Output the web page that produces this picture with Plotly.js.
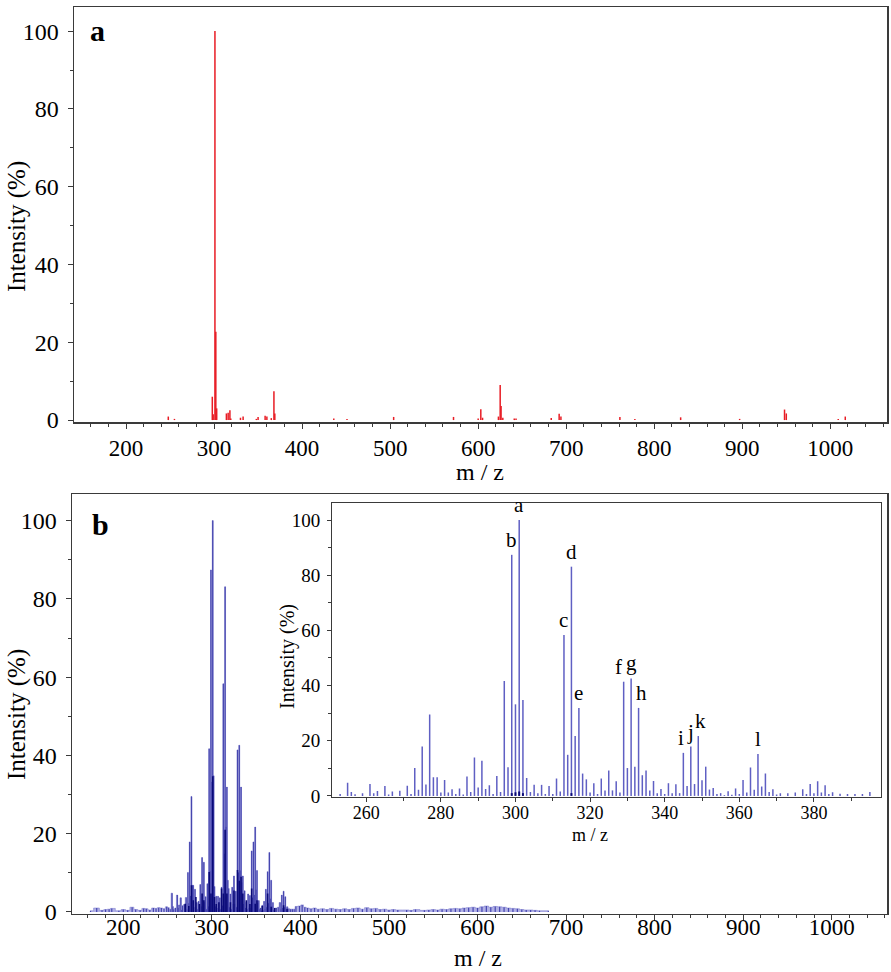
<!DOCTYPE html>
<html>
<head>
<meta charset="utf-8">
<script src="https://cdn.plot.ly/plotly-3.0.1.min.js"></script>
<style>html,body{margin:0;padding:0;background:#fff;}#chart{width:891px;height:972px;}</style>
</head>
<body>
<div id="chart"></div>
<script>
// ---------- Panel a (red spectrum) ----------
const aMz  = [248, 255, 298, 299, 301, 302, 303, 314, 316, 318, 319, 330, 333, 348, 350, 358, 360, 365, 368, 369,
              436, 451, 504, 572, 600, 603, 605, 623, 625, 626, 628, 641, 643, 683, 692, 694, 761, 778, 830, 897,
              948, 950, 1009, 1017];
const aInt = [0.9, 0.3, 6.0, 1.5, 100, 22.7, 3.0, 1.7, 1.9, 2.5, 0.4, 0.6, 0.9, 0.3, 0.8, 1.1, 0.9, 0.5, 7.4, 1.7,
              0.4, 0.3, 0.8, 0.8, 0.4, 2.8, 0.6, 0.9, 9.0, 3.6, 0.6, 0.4, 0.4, 0.5, 1.6, 0.9, 0.8, 0.3, 0.7, 0.3,
              2.7, 1.7, 0.3, 0.9];

// ---------- Panel b inset / main cluster (blue spectrum) ----------
const bMz  = [253, 255, 256, 257, 259, 261, 262, 263, 265, 266, 267, 269, 271, 272, 273, 274, 275, 276, 277, 278,
              279, 280, 281, 282, 283, 284, 285, 286, 287, 288, 289, 290, 291, 292, 293, 294, 295, 296, 297, 298,
              299, 300, 301, 302, 303, 304, 305, 306, 307, 308, 309, 310, 311, 312, 313, 314, 315, 316, 317, 318,
              319, 320, 321, 322, 323, 324, 325, 326, 327, 328, 329, 330, 331, 332, 333, 334, 335, 336, 337, 338,
              339, 340, 341, 342, 343, 344, 345, 346, 347, 348, 349, 350, 351, 352, 353, 354, 355, 356, 357, 358,
              359, 360, 361, 362, 363, 364, 365, 366, 367, 368, 369, 370, 371, 373, 375, 377, 378, 379, 380, 381,
              382, 383, 384, 385, 387, 389, 391, 393, 395];
const bInt = [0.7, 4.8, 1.4, 0.6, 1.0, 4.3, 1.0, 1.8, 3.6, 0.5, 1.6, 1.9, 3.7, 0.7, 10.1, 2.2, 17.9, 4.1, 29.5, 6.8,
              6.8, 1.2, 5.8, 1.2, 2.4, 0.7, 2.7, 0.5, 7.0, 1.4, 13.9, 3.0, 12.7, 2.5, 3.9, 0.7, 7.2, 1.4, 41.7, 10.4,
              87.4, 33.2, 100, 34.8, 6.5, 1.4, 4.0, 1.0, 4.0, 0.7, 3.6, 0.7, 6.3, 1.6, 58.3, 14.9, 83.1, 21.7, 31.9, 8.1,
              6.0, 1.2, 4.6, 0.7, 6.3, 2.0, 9.2, 2.0, 5.3, 1.2, 41.4, 10.1, 42.6, 10.6, 31.9, 7.5, 9.2, 2.0, 5.4, 1.0,
              2.5, 0.7, 4.6, 1.0, 4.2, 1.0, 15.6, 3.6, 17.9, 4.3, 21.7, 5.7, 10.6, 2.3, 2.9, 0.7, 1.0, 0.3, 1.7, 0.4,
              2.7, 0.7, 5.8, 1.2, 10.3, 2.2, 15.2, 3.4, 8.1, 1.4, 2.4, 0.5, 1.0, 1.0, 1.2, 2.4, 0.7, 4.3, 1.0, 5.3,
              1.2, 3.9, 0.7, 1.3, 0.8, 0.7, 0.7, 0.7, 1.4];

// low-level background of the full-range spectrum in panel b
const bgMz  = [163, 170, 176, 180, 184, 187, 195, 200, 205, 210, 214, 219, 223, 226, 230, 234, 237, 240, 243, 246,
               249, 251, 399, 402, 405, 408, 412, 416, 420, 425, 430, 435, 440, 445, 450, 455, 460, 465, 470, 475,
               480, 485, 490, 495, 500, 505, 510, 520, 525, 530, 540, 545, 550, 555, 560, 565, 570, 575, 580, 585,
               590, 595, 600, 605, 610, 615, 620, 625, 630, 635, 640, 645, 650, 655, 660, 665, 670, 680];
const bgInt = [0.3, 1.0, 0.4, 0.6, 0.7, 0.9, 0.3, 0.6, 0.4, 1.2, 0.6, 0.4, 0.9, 0.8, 0.5, 1.0, 0.9, 1.1, 1.0, 0.8,
               1.3, 1.1, 1.5, 1.8, 1.2, 1.0, 0.8, 1.0, 0.7, 0.8, 0.6, 0.9, 0.7, 0.6, 0.8, 0.6, 0.9, 1.0, 0.7, 1.1,
               0.8, 0.9, 0.6, 0.7, 0.5, 0.6, 0.5, 0.5, 0.4, 0.6, 0.4, 0.5, 0.6, 0.5, 0.7, 0.6, 0.8, 0.9, 0.8, 1.0,
               1.1, 1.2, 1.0, 1.3, 1.5, 1.2, 1.4, 1.3, 1.2, 1.0, 0.9, 0.8, 0.6, 0.5, 0.5, 0.4, 0.3, 0.3];

// dark (overlapping) component seen in the full-range panel b
const darkMz  = [270, 274, 277, 279, 282, 286, 289, 291, 297, 299, 301, 303, 305, 308, 311, 313, 315, 317, 321, 325,
                 329, 331, 333, 335, 339, 343, 345, 349, 351, 357, 363, 367, 371, 381, 385];
const darkInt = [2.1, 1.5, 6.8, 3.0, 3.8, 2.0, 4.7, 3.0, 10.2, 4.7, 34.7, 3.8, 2.0, 2.5, 6.0, 4.7, 21.0, 4.7, 2.5, 5.5,
                 10.7, 8.0, 9.0, 4.7, 3.0, 2.0, 6.0, 2.1, 3.0, 1.5, 4.7, 1.3, 1.0, 1.7, 0.8];

// dark marks near the base in the inset
const insetDarkMz  = [299, 300, 301, 302, 315];
const insetDarkInt = [1.0, 1.3, 1.6, 1.0, 1.0];

// peak labels in the inset
const peakLabels = ['a', 'b', 'c', 'd', 'e', 'f', 'g', 'h', 'i', 'j', 'k', 'l'];
const peakMz     = [301, 299, 313, 315, 317, 329, 331, 333, 345, 347, 349, 365];

// ---------- helpers ----------
function spikes(mz, inten) {
  const x = [], y = [];
  for (let i = 0; i < mz.length; i++) { x.push(mz[i], mz[i], null); y.push(0, inten[i], null); }
  return {x, y};
}
function sortedPairs(mzs, ints) {
  const p = mzs.map((m, i) => [m, ints[i]]).sort((u, v) => u[0] - v[0]);
  return {x: p.map(q => q[0]), y: p.map(q => q[1])};
}

const W = 891, H = 972;
const px = v => v / W, py = v => 1 - v / H;

const aS = spikes(aMz, aInt);
const allB = sortedPairs(bgMz.concat(bMz), bgInt.concat(bInt));
const bS = spikes(allB.x, allB.y);
const dS = spikes(darkMz, darkInt);
const iS = spikes(bMz, bInt);
const idS = spikes(insetDarkMz, insetDarkInt);

const traces = [
  {x: aS.x, y: aS.y, xaxis: 'x', yaxis: 'y', mode: 'lines', line: {color: 'rgb(232,28,36)', width: 1.5}, hoverinfo: 'skip'},
  {x: allB.x, y: allB.y, xaxis: 'x2', yaxis: 'y2', mode: 'lines', line: {color: 'rgba(120,120,205,0.9)', width: 0.6, shape: 'hvh'},
   fill: 'tozeroy', fillcolor: 'rgba(150,150,220,0.75)', hoverinfo: 'skip'},
  {x: bS.x, y: bS.y, xaxis: 'x2', yaxis: 'y2', mode: 'lines', line: {color: 'rgb(70,70,175)', width: 1.2}, hoverinfo: 'skip'},
  {x: dS.x, y: dS.y, xaxis: 'x2', yaxis: 'y2', mode: 'lines', line: {color: 'rgb(10,10,120)', width: 1.6}, hoverinfo: 'skip'},
  {x: iS.x, y: iS.y, xaxis: 'x3', yaxis: 'y3', mode: 'lines', line: {color: 'rgb(95,95,195)', width: 1.5}, hoverinfo: 'skip'},
  {x: idS.x, y: idS.y, xaxis: 'x3', yaxis: 'y3', mode: 'lines', line: {color: 'rgb(10,10,120)', width: 2}, hoverinfo: 'skip'}
];

const serif = 'Liberation Serif, Times New Roman, serif';
const frame = '#3a3a3a';
function xAx(domain, range, anchor, fs, dtick, minor, opts) {
  return Object.assign({
    domain, range, anchor, showgrid: false, zeroline: false, showline: true, linecolor: frame, linewidth: 1.5, mirror: true,
    ticks: 'outside', ticklen: 5, tickwidth: 1, tickcolor: frame, tick0: 0, dtick,
    minor: {dtick: minor, ticks: 'outside', ticklen: 3, tickcolor: frame, showgrid: false},
    tickfont: {family: serif, size: fs, color: '#000'}, fixedrange: true
  }, opts || {});
}

const layout = {
  width: W, height: H, margin: {l: 0, r: 0, t: 0, b: 0}, paper_bgcolor: '#fff', plot_bgcolor: '#fff', showlegend: false,
  xaxis:  xAx([px(74), px(887)], [140.9, 1064.4], 'y', 23, 100, 20, {ticklabelstandoff: 0}),
  yaxis:  xAx([py(422), py(7)], [-0.5, 106.2], 'x', 24, 20, 10, {ticklabelstandoff: 4}),
  xaxis2: xAx([px(72), px(887)], [142.1, 1062.4], 'y2', 23, 100, 20, {ticklabelstandoff: -13}),
  yaxis2: xAx([py(913.5), py(494)], [-0.4, 106.8], 'x2', 24, 20, 10, {ticklabelstandoff: 4}),
  xaxis3: xAx([px(332.3), px(880.7)], [250.9, 397.9], 'y3', 18, 20, 10, {ticklen: 4, linewidth: 1.2, ticklabelstandoff: -5}),
  yaxis3: xAx([py(797), py(502.7)], [-0.4, 106.3], 'x3', 19, 20, 10, {ticklen: 4, linewidth: 1.2, ticklabelstandoff: 3}),
  annotations: []
};

const ann = layout.annotations;
function paperText(text, x, y, size, opts) {
  ann.push(Object.assign({text, xref: 'paper', yref: 'paper', x: px(x), y: py(y), xanchor: 'center', yanchor: 'middle',
    showarrow: false, font: {family: serif, size, color: '#000'}}, opts || {}));
}
paperText('Intensity (%)', 17, 227, 25, {textangle: -90});
paperText('Intensity (%)', 17, 715, 25, {textangle: -90});
paperText('m / z', 480, 472, 24);
paperText('m / z', 478, 958, 24);
paperText('<b>a</b>', 97, 30, 30);
paperText('<b>b</b>', 100, 524, 30);
paperText('Intensity (%)', 287, 657, 20, {textangle: -90});
paperText('m / z', 590, 835, 18);

const shifts = {f: -5, h: 3, i: -2, k: 2};
peakLabels.forEach((lab, i) => {
  const idx = bMz.indexOf(peakMz[i]);
  ann.push({text: lab, xref: 'x3', yref: 'y3', x: peakMz[i], y: bInt[idx], xanchor: 'center', yanchor: 'bottom',
    xshift: shifts[lab] || 0, yshift: 1, showarrow: false, font: {family: serif, size: 21, color: '#000'}});
});

Plotly.newPlot('chart', traces, layout, {displayModeBar: false, staticPlot: true});
</script>
</body>
</html>
